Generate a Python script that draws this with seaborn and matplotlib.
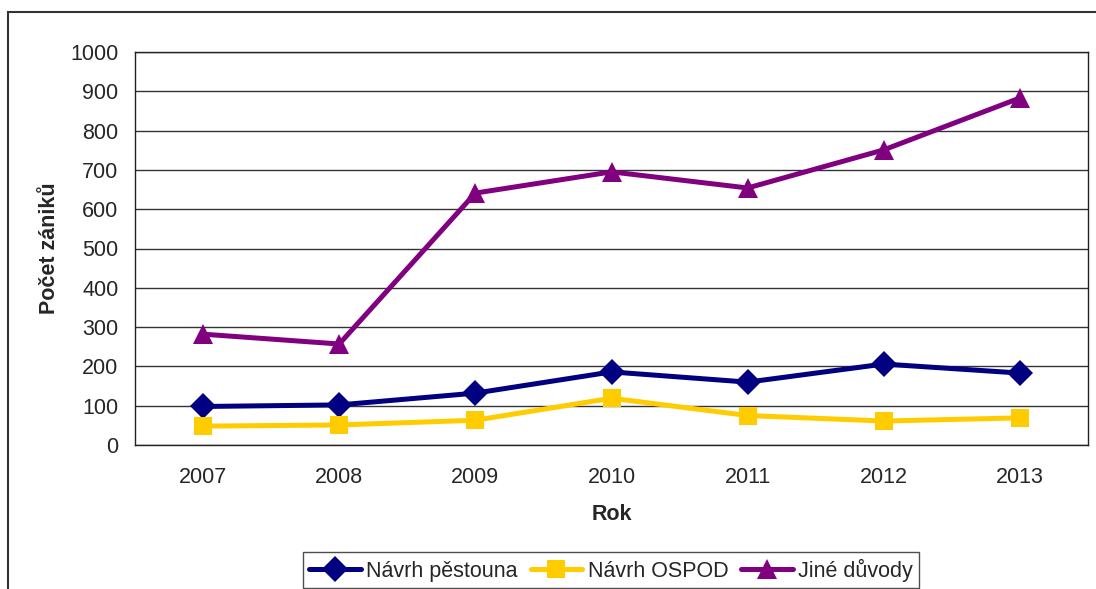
import numpy as np
import pandas as pd
import matplotlib
matplotlib.use("Agg")
import matplotlib.pyplot as plt
import seaborn as sns
from matplotlib.patches import Rectangle

# data
roky = ['2007', '2008', '2009', '2010', '2011', '2012', '2013']
navrh_pestouna = [98, 102, 132, 186, 160, 206, 183]
navrh_ospod = [48, 51, 63, 119, 75, 61, 69]
jine_duvody = [282, 257, 641, 695, 654, 751, 883]
serie = ['Návrh pěstouna', 'Návrh OSPOD', 'Jiné důvody']
barvy = ['#000080', '#FFCC00', '#800080']
znacky = ['D', 's', '^']

df = pd.DataFrame({
    'Rok': list(range(len(roky))) * 3,
    'Počet': navrh_pestouna + navrh_ospod + jine_duvody,
    'Serie': [serie[0]] * 7 + [serie[1]] * 7 + [serie[2]] * 7,
})

sns.set_style('white')
plt.rcParams['font.family'] = ['Liberation Sans', 'DejaVu Sans']
fs = 15.5

fig = plt.figure(figsize=(10.96, 5.89), dpi=100)
ax = fig.add_axes([135/1096, 1-445/589, (1088-135)/1096, (445-52)/589])

# outer chart border
fig.patches.append(Rectangle((8/1096, -0.05), 1.2, 1-12/589+0.05, transform=fig.transFigure,
                             fill=False, edgecolor='#333333', linewidth=1.5))

ms = {'D': 13, 's': 13, '^': 14}
sns.lineplot(data=df, x='Rok', y='Počet', hue='Serie', style='Serie',
             palette=dict(zip(serie, barvy)), markers=dict(zip(serie, znacky)),
             dashes=False, linewidth=3.6, markersize=13, markeredgewidth=0, ax=ax,
             legend=False)
for line, m in zip(ax.lines, znacky):
    line.set_markersize(ms[m])

ax.set_xlim(-0.5, 6.5)
ax.set_ylim(0, 1000)
ax.set_yticks(np.arange(0, 1001, 100))
ax.set_xticks(range(len(roky)))
ax.set_xticklabels(roky)
ax.set_xticks(np.arange(-0.5, 7, 1), minor=True)
ax.tick_params(axis='x', which='major', length=0, labelsize=fs, pad=15.5)
ax.tick_params(axis='x', which='minor', length=7, width=1, direction='out', color='#333333')
ax.tick_params(axis='y', which='major', length=8, width=1, direction='out', labelsize=fs, pad=4, color='#333333')
ax.yaxis.grid(True, color='#333333', linewidth=1)
ax.set_axisbelow(True)
for s in ax.spines.values():
    s.set_visible(True)
    s.set_color('#222222')
    s.set_linewidth(1)

ax.set_xlabel('Rok', fontsize=fs, fontweight='bold', labelpad=12)
ax.set_ylabel('Počet zániků', fontsize=fs, fontweight='bold', labelpad=7)

handles = [plt.Line2D([], [], color=c, marker=m, linewidth=3.6, markersize=ms[m], markeredgewidth=0)
           for c, m in zip(barvy, znacky)]
leg = fig.legend(handles, serie, loc='center', bbox_to_anchor=(611/1096, 1-570/589), ncol=3,
                 fontsize=fs, frameon=True, fancybox=False, edgecolor='#222222',
                 handlelength=2.4, handletextpad=0.25, columnspacing=0.6, borderpad=0.3,
                 borderaxespad=0)
leg.get_frame().set_linewidth(1)

fig.savefig('out.png', dpi=100)
